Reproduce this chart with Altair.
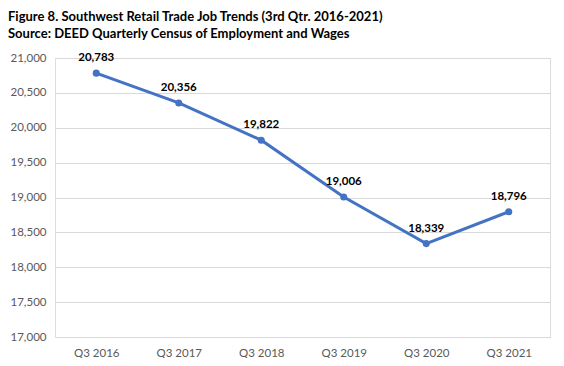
import altair as alt
import pandas as pd

quarters = ["Q3 2016", "Q3 2017", "Q3 2018", "Q3 2019", "Q3 2020", "Q3 2021"]
jobs = [20783, 20356, 19822, 19006, 18339, 18796]

df = pd.DataFrame({"quarter": quarters, "jobs": jobs})

FONT = "Lato"

x = alt.X("quarter:N", sort=quarters, title=None,
          scale=alt.Scale(paddingInner=0, paddingOuter=0.5),
          axis=alt.Axis(labelAngle=0, ticks=False, domain=True, domainColor="#d9d9d9",
                        labelColor="#595959", labelFontSize=11.5, labelFont=FONT, labelPadding=10))
y = alt.Y("jobs:Q", title=None,
          scale=alt.Scale(domain=[17000, 21000], nice=False),
          axis=alt.Axis(values=list(range(17000, 21001, 500)), format=",.0f", ticks=False, domain=False,
                        gridColor="#d9d9d9", labelColor="#595959", labelFontSize=11.5,
                        labelFont=FONT, labelPadding=9))

base = alt.Chart(df).encode(x=x, y=y)

line = base.mark_line(color="#4472C4", strokeWidth=3)
pts = base.mark_point(color="#4472C4", filled=True, opacity=1, size=50)
labels = base.mark_text(dy=-15, fontWeight="bold", fontSize=11.5, font=FONT, color="#000000").encode(
    text=alt.Text("jobs:Q", format=",.0f"))

chart = (line + pts + labels).properties(
    width=495, height=279,
    title=alt.TitleParams(
        ["Figure 8. Southwest Retail Trade Job Trends (3rd Qtr. 2016-2021)",
         "Source: DEED Quarterly Census of Employment and Wages"],
        anchor="start", frame="group", font=FONT, fontSize=13, fontWeight="bold",
        color="#000000", lineHeight=17, offset=11, dx=-47),
    padding={"left": 47, "top": 50, "right": 6, "bottom": 21},
    autosize=alt.AutoSizeParams(type="none"),
).configure_view(stroke=None).configure(background="white")

chart.save("out.html", embed_options={"renderer": "svg", "actions": False})
